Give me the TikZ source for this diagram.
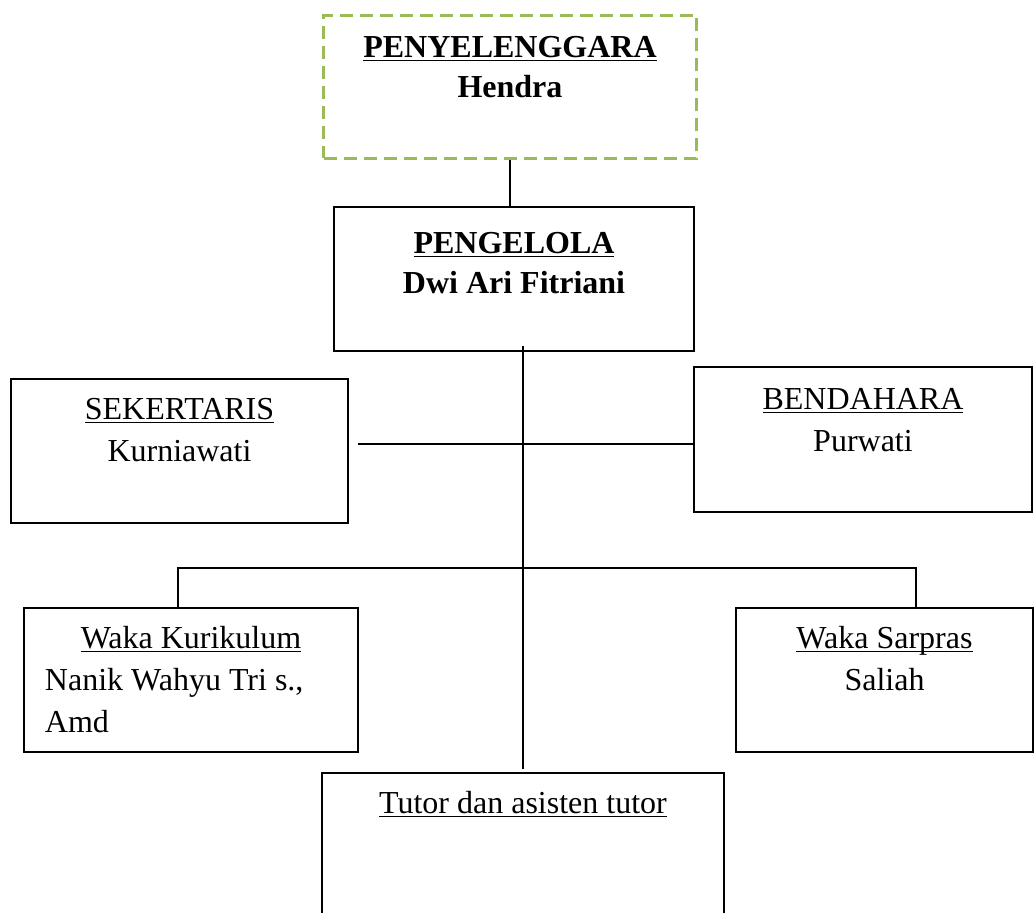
\documentclass[tikz,border=0pt]{standalone}
\usepackage{fontspec}
\setmainfont{Liberation Serif}
\usetikzlibrary{positioning}
\definecolor{dashgreen}{RGB}{155,187,89}
\newcommand\undl[1]{\underline{\raisebox{0pt}[\height][0pt]{#1}}}

\begin{document}
\begin{tikzpicture}[x=0.5pt, y=-0.5pt,
        box/.style={draw, rectangle, line width=0.9pt, inner sep=0pt},
        organiser/.style={draw=dashgreen, rectangle, line width=1.5pt,
            dash pattern=on 6.5pt off 3.5pt, inner sep=0pt},
        title/.style={inner sep=0pt, align=center,
            font=\fontsize{16}{21}\selectfont},
        link/.style={line width=0.9pt}]
    \useasboundingbox (0,0) rectangle (1035,912);
    \clip (0,0) rectangle (1035,912);

    % boxes
    \node[organiser, minimum width=186.5pt, minimum height=71.5pt] (peny) at (510,86.5) {};
    \node[box, minimum width=180pt, minimum height=72pt] (peng) at (514,279) {};
    \node[box, minimum width=168.5pt, minimum height=72pt] (sek) at (179.5,451) {};
    \node[box, minimum width=169pt, minimum height=72.5pt] (bend) at (863,439.5) {};
    \node[box, minimum width=167pt, minimum height=72pt] (kur) at (191,680) {};
    \node[box, minimum width=148.5pt, minimum height=72pt] (sar) at (884.5,680) {};
    \node[box, minimum width=201pt, minimum height=80pt] (tut) at (523,853) {};

    % texts
    \node[title, below=11.3pt of peny.north, font=\fontsize{16}{20}\selectfont\bfseries] (penytext)
        {\undl{PENYELENGGARA}\\ Hendra};
    \node[title, below=13pt of peng.north, font=\fontsize{16}{20}\selectfont\bfseries] (pengtext)
        {\undl{PENGELOLA}\\ Dwi Ari Fitriani};
    \node[title, below=9.8pt of sek.north] (sektext)
        {\undl{SEKERTARIS}\\ Kurniawati};
    \node[title, below=10.8pt of bend.north] (bendtext)
        {\undl{BENDAHARA}\\ Purwati};
    \node[title, below=9.3pt of kur.north] (kurtext)
        {\undl{Waka Kurikulum}\\ \makebox[146pt][l]{Nanik Wahyu Tri s.,}\\ \makebox[146pt][l]{Amd}};
    \node[title, below=9.3pt of sar.north] (sartext)
        {\undl{Waka Sarpras}\\ Saliah};
    \node[title, below=9.3pt of tut.north] (tuttext)
        {\undl{Tutor dan asisten tutor}};

    % connectors
    \coordinate (staff) at (523,444);
    \coordinate (busL) at (178,568);
    \coordinate (busR) at (916,568);

    \draw[link] (peny.south) -- (peny.south |- peng.north);
    \draw[link] ([yshift=3pt]peng.south -| tut.north) -- ([yshift=1.5pt]tut.north);
    \draw[link] ([xshift=4.5pt]sek.east |- staff) -- (bend.west |- staff);
    \draw[link] (kur.north -| busL) -- (busL) -- (busR) -- (sar.north -| busR);
\end{tikzpicture}
\end{document}
